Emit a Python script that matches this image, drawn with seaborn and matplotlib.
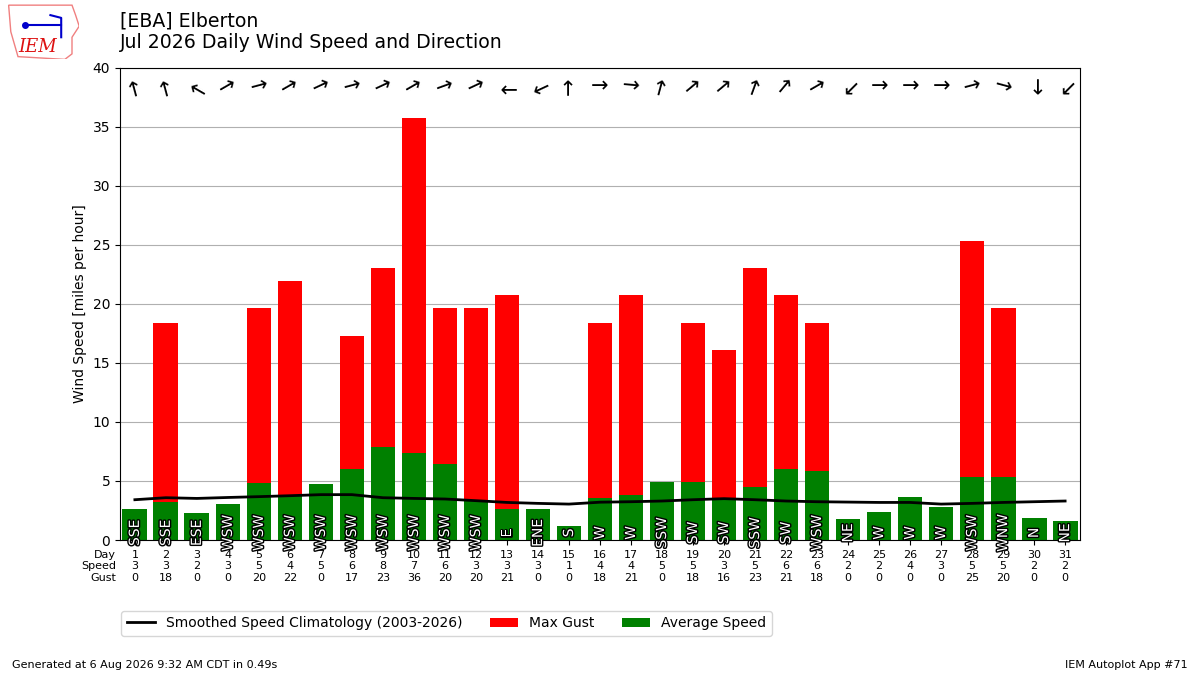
import matplotlib
matplotlib.use("Agg")
import matplotlib.pyplot as plt
import matplotlib.patheffects as pe
from matplotlib.patches import Polygon
import seaborn as sns
import numpy as np

# July 2026 daily values for EBA (mph)
days = list(range(1, 32))
avg_speed = [2.64, 3.24, 2.30, 3.01, 4.80, 3.75, 4.77, 6.05, 7.90, 7.40,
             6.40, 3.27, 2.64, 2.64, 1.19, 3.55, 3.84, 4.95, 4.95, 3.45,
             4.52, 6.05, 5.85, 1.79, 2.39, 3.67, 2.81, 5.34, 5.37, 1.88, 1.62]
max_gust = [0, 18.4, 0, 0, 19.6, 21.9, 0, 17.3, 23.0, 35.7,
            19.6, 19.6, 20.7, 0, 0, 18.4, 20.7, 0, 18.4, 16.1,
            23.0, 20.7, 18.4, 0, 0, 0, 0, 25.3, 19.6, 0, 0]
clim_speed = [3.41, 3.58, 3.52, 3.60, 3.67, 3.75, 3.84, 3.84, 3.58, 3.52,
              3.47, 3.33, 3.18, 3.10, 3.04, 3.20, 3.24, 3.30, 3.41, 3.50,
              3.41, 3.30, 3.24, 3.21, 3.18, 3.18, 3.04, 3.10, 3.18, 3.24, 3.30]
# direction the wind blows from, degrees
drct = [165, 165, 120, 240, 255, 240, 245, 255, 245, 240,
        250, 245, 90, 65, 180, 270, 275, 195, 230, 230,
        200, 220, 240, 45, 270, 270, 270, 255, 285, 0, 45]
drct_txt = ["SSE", "SSE", "ESE", "WSW", "WSW", "WSW", "WSW", "WSW", "WSW", "WSW",
            "WSW", "WSW", "E", "ENE", "S", "W", "W", "SSW", "SW", "SW",
            "SSW", "SW", "WSW", "NE", "W", "W", "W", "WSW", "WNW", "N", "NE"]

fig = plt.figure(figsize=(12, 6.75), dpi=100)
ax = fig.add_axes([0.1, 0.2, 0.8, 0.7])

sns.barplot(x=days, y=max_gust, color="red", saturation=1, width=0.8,
            native_scale=True, label="Max Gust", ax=ax)
sns.barplot(x=days, y=avg_speed, color="green", saturation=1, width=0.8,
            native_scale=True, label="Average Speed", ax=ax)
sns.lineplot(x=days, y=clim_speed, color="black", lw=2,
             label="Smoothed Speed Climatology (2003-2026)", ax=ax)

# direction labels in the bars and arrows along the top
for d, txt, deg in zip(days, drct_txt, drct):
    ax.text(d, 0.6, txt, rotation=90, ha="center", va="center", color="white",
            fontsize=10, zorder=5,
            path_effects=[pe.withStroke(linewidth=2, foreground="black")])
    ax.text(d, 38.4, "\u2192", rotation=(270 - deg) % 360, rotation_mode="anchor",
            ha="center", va="center", fontsize=15, zorder=5)

ax.set_xticks(days)
ax.set_xticklabels(["%d\n%.0f\n%.0f" % (d, s, g)
                    for d, s, g in zip(days, np.round(avg_speed), np.round(max_gust))],
                   fontsize=8)
ax.annotate("Day\nSpeed\nGust", xy=(0, 0), xycoords="axes fraction",
            xytext=(-3, -7), textcoords="offset points", ha="right", va="top",
            fontsize=8, multialignment="right")
ax.set_xlim(0.52, 31.48)
ax.set_ylim(0, 40)
ax.set_yticks(range(0, 41, 5))
ax.set_ylabel("Wind Speed [miles per hour]")
ax.set_xlabel("")
ax.grid(axis="y", color="#b0b0b0")
ax.set_axisbelow(True)

ax.legend(loc="upper left", bbox_to_anchor=(-0.006, -0.135), ncol=3, fontsize=10)

fig.text(0.1, 0.983, "[EBA] Elberton\nJul 2026 Daily Wind Speed and Direction",
         fontsize=13.6, va="top")
fig.text(0.01, 0.01, "Generated at 6 Aug 2026 9:32 AM CDT in 0.49s", fontsize=8)
fig.text(0.99, 0.01, "IEM Autoplot App #71", fontsize=8, ha="right")

# rough IEM logo
lax = fig.add_axes([0.006, 0.912, 0.06, 0.082])
lax.set_xlim(0, 1)
lax.set_ylim(0, 1)
lax.axis("off")
lax.add_patch(Polygon([[0.02, 0.98], [0.9, 0.98], [0.95, 0.8], [1.0, 0.6], [0.9, 0.4],
                       [0.9, 0.1], [0.8, 0.0], [0.15, 0.05], [0.05, 0.5]],
                      closed=True, fill=False, edgecolor="#f08080", lw=1))
lax.plot([0.25, 0.75], [0.62, 0.62], color="#0000cc", lw=1.5)
lax.plot([0.25], [0.62], "o", color="#0000cc", ms=4)
lax.plot([0.6, 0.75, 0.75], [0.8, 0.75, 0.4], color="#0000cc", lw=1.5)
lax.text(0.42, 0.22, "IEM", color="#dd1111", fontsize=13, family="serif",
         style="italic", ha="center", va="center")

fig.savefig("out.png", dpi=100)
